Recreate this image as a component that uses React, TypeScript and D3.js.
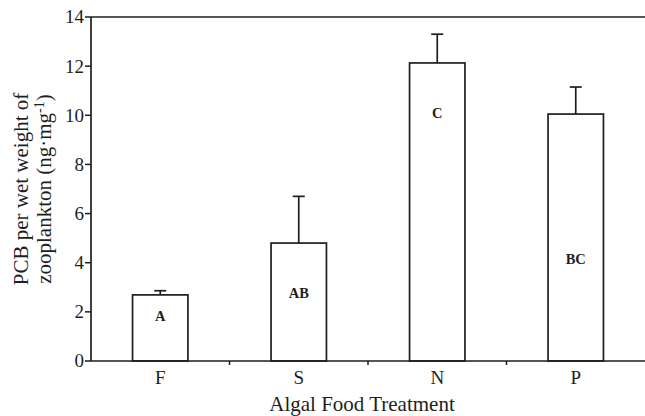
import React from 'react';
import * as d3 from 'd3';

const categories = ['F', 'S', 'N', 'P'];
const means = [2.69, 4.8, 12.13, 10.05];
const errors = [0.17, 1.9, 1.17, 1.1];
const groupLetters = ['A', 'AB', 'C', 'BC'];
const letterLevels = [1.83, 2.77, 10.09, 4.15];
const yTicks = [0, 2, 4, 6, 8, 10, 12, 14];

const W = 645;
const H = 416;
const margin = { top: 17, right: 0, bottom: 55, left: 91 };
const font = '"Liberation Serif", "Times New Roman", serif';
const ink = '#1e1e1e';

const App = () => {
  const innerW = W - margin.left - margin.right;
  const innerH = H - margin.top - margin.bottom;

  const x = d3.scaleBand().domain(categories).range([0, innerW]).paddingInner(0.6).paddingOuter(0.3);
  const band = d3.scaleBand().domain(categories).range([0, innerW]);
  const y = d3.scaleLinear().domain([0, 14]).range([innerH, 0]);

  const bw = x.bandwidth();
  const capHalf = 6;

  return (
    <svg width={W} height={H} style={{ position: 'absolute', left: 0, top: 0, background: '#fff' }}>
      <g transform={`translate(${margin.left},${margin.top})`} fontFamily={font} fill={ink}>
        {/* bars + error bars */}
        {categories.map((c, i) => {
          const cx = x(c)! + bw / 2;
          return (
            <g key={c}>
              <line x1={cx} x2={cx} y1={y(means[i])} y2={y(means[i] + errors[i])} stroke={ink} strokeWidth={1.7} />
              <line x1={cx - capHalf} x2={cx + capHalf} y1={y(means[i] + errors[i])} y2={y(means[i] + errors[i])} stroke={ink} strokeWidth={1.7} />
              <rect x={x(c)} y={y(means[i])} width={bw} height={innerH - y(means[i])} fill="#fff" stroke={ink} strokeWidth={1.7} />
              <text x={cx} y={y(letterLevels[i])} dy="0.35em" textAnchor="middle" fontWeight="bold" fontSize={14.5}>
                {groupLetters[i]}
              </text>
            </g>
          );
        })}

        {/* top line */}
        <line x1={0} x2={innerW} y1={y(14)} y2={y(14)} stroke={ink} strokeWidth={1.7} />

        {/* y axis */}
        <line x1={0} x2={0} y1={0} y2={innerH} stroke={ink} strokeWidth={1.7} />
        {yTicks.map(t => (
          <g key={t} transform={`translate(0,${y(t)})`}>
            <line x1={-6} x2={0} stroke={ink} strokeWidth={1.5} />
            <text x={-7} dy="0.34em" textAnchor="end" fontSize={19}>{t}</text>
          </g>
        ))}

        {/* x axis */}
        <line x1={0} x2={innerW} y1={innerH} y2={innerH} stroke={ink} strokeWidth={1.7} />
        {categories.slice(1).map(c => (
          <line key={c} x1={band(c)} x2={band(c)} y1={innerH} y2={innerH + 4} stroke={ink} strokeWidth={1.5} />
        ))}
        {categories.map(c => (
          <text key={c} x={x(c)! + bw / 2} y={innerH + 23} textAnchor="middle" fontSize={19}>{c}</text>
        ))}

        <text x={271} y={innerH + 50} textAnchor="middle" fontSize={21}>Algal Food Treatment</text>

        {/* y title */}
        <g transform={`translate(${-margin.left + 28},${innerH / 2}) rotate(-90)`}>
          <text textAnchor="middle" fontSize={21}>PCB per wet weight of</text>
          <text y={23} textAnchor="middle" fontSize={21}>
            zooplankton (ng·mg<tspan dy={-7} fontSize={14}>-1</tspan><tspan dy={7}>)</tspan>
          </text>
        </g>
      </g>
    </svg>
  );
};

export default App;
